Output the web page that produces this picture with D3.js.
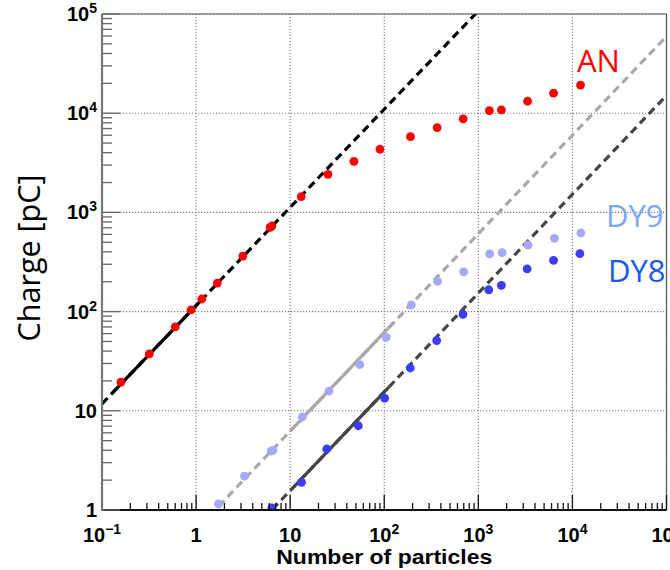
<!DOCTYPE html>
<html>
<head>
<meta charset="utf-8">
<script src="https://cdn.jsdelivr.net/npm/d3@7"></script>
<style>
  html, body { margin: 0; padding: 0; background: #fff; }
  svg { display: block; }
</style>
</head>
<body>
<svg id="chart" width="670" height="570"></svg>
<script>
// Measured charge vs. number of particles for the anode (AN) and dynodes DY9, DY8
const anX  = [0.159, 0.318, 0.60, 0.885, 1.15, 1.68, 3.14, 6.12, 6.38, 13.1, 25.2, 47.6, 90, 190, 365, 690, 1310, 1760, 3340, 6300, 12200];
const anY  = [19.5, 37.4, 70, 104, 134, 194, 363, 708, 729, 1440, 2420, 3270, 4330, 5800, 7150, 8750, 10600, 10800, 13200, 15900, 19200];

const dy9X = [1.73, 3.27, 6.28, 6.55, 13.5, 25.8, 55, 105, 194, 369, 698, 1320, 1790, 3380, 6440, 12300];
const dy9Y = [1.15, 2.19, 3.93, 3.99, 8.66, 15.8, 29.2, 55, 116.6, 202, 252, 381, 393, 469, 548, 620];

const dy8X = [6.38, 13.2, 24.5, 53, 101, 189, 361, 687, 1290, 1757, 3300, 6300, 12000];
const dy8Y = [1.05, 1.9, 4.12, 7.07, 13.4, 27, 51, 94, 166, 184, 270, 329, 384];

// Linear-response fits  Q = a * N^b, solid over the fitted range, dashed as extrapolation
const fitNames  = ["AN", "DY9", "DY8"];
const fitA      = [115, 0.63, 0.158];
const fitB      = [0.99, 0.995, 0.996];
const fitLo     = [0.13, 10, 11];
const fitHi     = [1.2, 125, 112];

// Axis ticks
const xMajor = [0.1, 1, 10, 100, 1000, 10000, 100000];
const xMajorLabels = [["10", "\u22121"], ["1", ""], ["10", ""], ["10", "2"], ["10", "3"], ["10", "4"], ["10", "5"]];
const yMajor = [1, 10, 100, 1000, 10000, 100000];
const yMajorLabels = [["1", ""], ["10", ""], ["10", "2"], ["10", "3"], ["10", "4"], ["10", "5"]];

const svg = d3.select("#chart");
const x = d3.scaleLog().domain([0.1, 1e5]).range([102, 666.5]);
const y = d3.scaleLog().domain([1, 1e5]).range([510, 14]);

const [x0, x1] = x.range();
const [yb, yt] = y.range();

svg.append("defs").append("clipPath").attr("id", "plot")
  .append("rect").attr("x", x0).attr("y", yt).attr("width", x1 - x0).attr("height", yb - yt);

// Minor ticks 2..9 in each decade
function minors(lo, hi) {
  const out = [];
  for (let e = Math.floor(Math.log10(lo)); e < Math.ceil(Math.log10(hi)); e++) {
    for (let m = 2; m <= 9; m++) {
      const v = m * Math.pow(10, e);
      if (v > lo && v < hi) out.push(v);
    }
  }
  return out;
}

// Dotted grid
const grid = svg.append("g").attr("stroke", "#7a7a7a").attr("stroke-width", 1.1)
  .attr("stroke-dasharray", "1.2,1.8").attr("fill", "none");
grid.selectAll("line.v").data(xMajor.slice(1)).join("line")
  .attr("x1", d => x(d)).attr("x2", d => x(d)).attr("y1", yb).attr("y2", yt);
grid.selectAll("line.h").data(yMajor.slice(1)).join("line")
  .attr("x1", x0).attr("x2", x1).attr("y1", d => y(d)).attr("y2", d => y(d));

// Fit lines
const lineColors = ["#000000", "#a9a9a9", "#454545"];
const fits = svg.append("g").attr("clip-path", "url(#plot)").attr("fill", "none");
fitNames.forEach((name, i) => {
  const f = n => fitA[i] * Math.pow(n, fitB[i]);
  const ln = d3.line().x(d => x(d)).y(d => y(f(d)));
  fits.append("path")
    .attr("d", ln([0.1, 1e5]))
    .attr("stroke", lineColors[i]).attr("stroke-width", 3.2)
    .attr("stroke-dasharray", "8,5");
  fits.append("path")
    .attr("d", ln([fitLo[i], fitHi[i]]))
    .attr("stroke", lineColors[i]).attr("stroke-width", 3.2);
});

// Data points
const series = [
  { xs: anX,  ys: anY,  color: "#ff0000" },
  { xs: dy9X, ys: dy9Y, color: "#a8a8fb" },
  { xs: dy8X, ys: dy8Y, color: "#3c3cfa" }
];
const pts = svg.append("g").attr("clip-path", "url(#plot)");
series.forEach(s => {
  pts.append("g").selectAll("circle").data(d3.zip(s.xs, s.ys)).join("circle")
    .attr("cx", d => x(d[0])).attr("cy", d => y(d[1])).attr("r", 4.4)
    .attr("fill", s.color);
});

// Frame
svg.append("line").attr("x1", x0).attr("x2", x1).attr("y1", yt).attr("y2", yt)
  .attr("stroke", "#555").attr("stroke-width", 1.2);
svg.append("line").attr("x1", x1).attr("x2", x1).attr("y1", yt).attr("y2", yb)
  .attr("stroke", "#555").attr("stroke-width", 1.2);

// X axis (ticks pointing up into the frame)
const xAxis = svg.append("g").attr("stroke", "#111").attr("stroke-width", 1.3);
xAxis.selectAll("line.mi").data(minors(0.1, 1e5)).join("line")
  .attr("x1", d => x(d)).attr("x2", d => x(d)).attr("y1", yb).attr("y2", yb - 7);
xAxis.selectAll("line.ma").data(xMajor).join("line")
  .attr("x1", d => x(d)).attr("x2", d => x(d)).attr("y1", yb).attr("y2", yb - 15);
svg.append("line").attr("x1", x0 - 1).attr("x2", x1).attr("y1", yb).attr("y2", yb)
  .attr("stroke", "#111").attr("stroke-width", 2);

// Y axis (ticks pointing right into the frame)
const yAxis = svg.append("g").attr("stroke", "#666").attr("stroke-width", 1.3);
yAxis.selectAll("line.mi").data(minors(1, 1e5)).join("line")
  .attr("x1", x0).attr("x2", x0 + 10).attr("y1", d => y(d)).attr("y2", d => y(d));
yAxis.selectAll("line.ma").data(yMajor).join("line")
  .attr("x1", x0).attr("x2", x0 + 18).attr("y1", d => y(d)).attr("y2", d => y(d));
svg.append("line").attr("x1", x0).attr("x2", x0).attr("y1", yt).attr("y2", yb + 1)
  .attr("stroke", "#777").attr("stroke-width", 2.2);

// Tick labels with superscript exponents
const labelFont = "'Liberation Sans', Arial, Helvetica, sans-serif";
function powerLabel(g, base, exp) {
  g.append("tspan").text(base);
  if (exp) g.append("tspan").attr("dy", -8).attr("font-size", 14).text(exp);
}
svg.append("g").selectAll("text").data(xMajor).join("text")
  .attr("x", d => x(d)).attr("y", 542)
  .attr("text-anchor", "middle")
  .attr("font-family", labelFont).attr("font-weight", "bold").attr("font-size", 20)
  .each(function(d, i) { powerLabel(d3.select(this), xMajorLabels[i][0], xMajorLabels[i][1]); });
svg.append("g").selectAll("text").data(yMajor).join("text")
  .attr("x", 97).attr("y", d => y(d) + 7)
  .attr("text-anchor", "end")
  .attr("font-family", labelFont).attr("font-weight", "bold").attr("font-size", 20)
  .each(function(d, i) { powerLabel(d3.select(this), yMajorLabels[i][0], yMajorLabels[i][1]); });

// Axis titles
svg.append("text")
  .attr("x", (x0 + x1) / 2).attr("y", 564)
  .attr("text-anchor", "middle")
  .attr("font-family", labelFont).attr("font-weight", "bold").attr("font-size", 20)
  .attr("textLength", 216).attr("lengthAdjust", "spacingAndGlyphs")
  .text("Number of particles");
svg.append("text")
  .attr("transform", "translate(40,258) rotate(-90)")
  .attr("text-anchor", "middle")
  .attr("font-family", "'Open Sans', sans-serif").attr("font-size", 30.5)
  .text("Charge [pC]");

// Series labels
const seriesLabels = [
  { text: "AN",  color: "#ff0000", px: 577, py: 72 },
  { text: "DY9", color: "#7ba6f7", px: 606, py: 227 },
  { text: "DY8", color: "#1457f5", px: 608, py: 282 }
];
svg.append("g").selectAll("text").data(seriesLabels).join("text")
  .attr("x", d => d.px).attr("y", d => d.py)
  .attr("fill", d => d.color)
  .attr("font-family", "'Open Sans', sans-serif").attr("font-size", 31)
  .text(d => d.text);
</script>
</body>
</html>
